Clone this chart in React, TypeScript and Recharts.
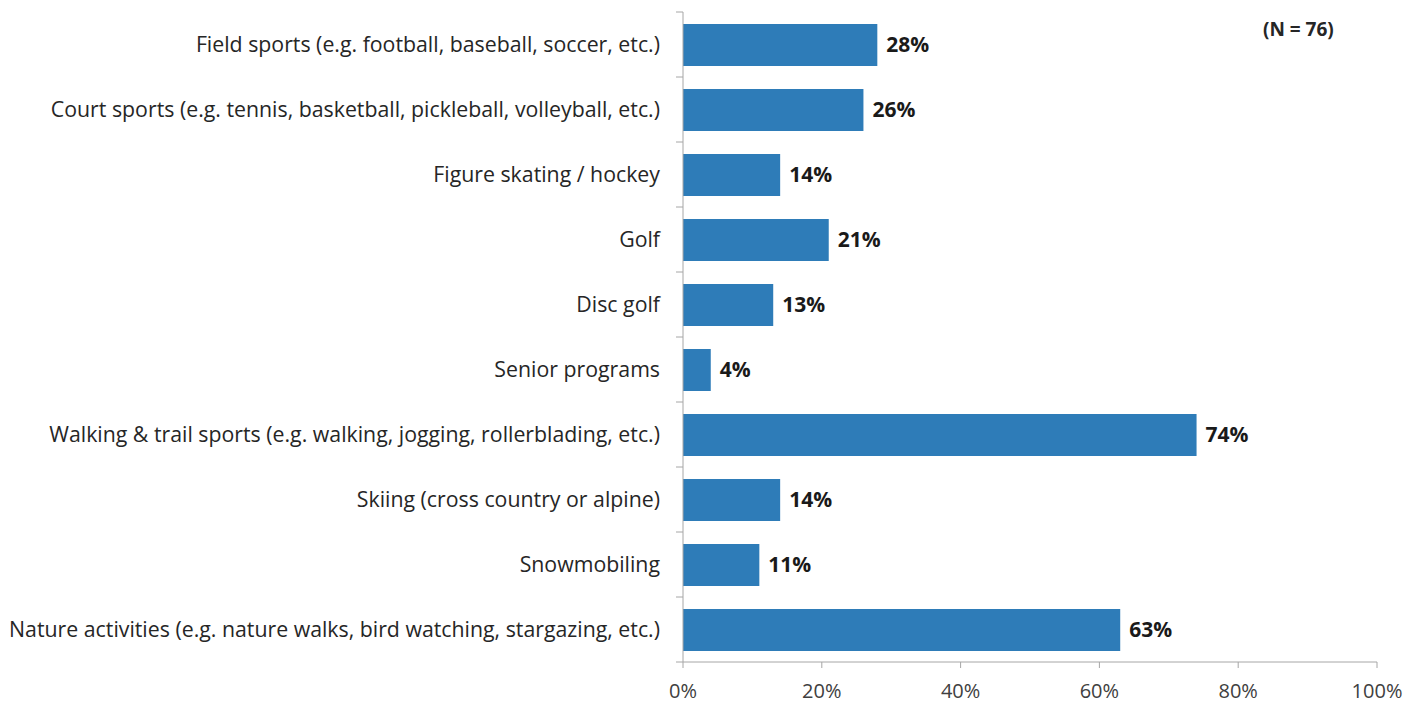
import { BarChart, Bar, XAxis, YAxis, LabelList } from 'recharts';

const categories = [
  'Field sports (e.g. football, baseball, soccer, etc.)',
  'Court sports (e.g. tennis, basketball, pickleball, volleyball, etc.)',
  'Figure skating / hockey',
  'Golf',
  'Disc golf',
  'Senior programs',
  'Walking & trail sports (e.g. walking, jogging, rollerblading, etc.)',
  'Skiing (cross country or alpine)',
  'Snowmobiling',
  'Nature activities (e.g. nature walks, bird watching, stargazing, etc.)',
];
const shares = [28, 26, 14, 21, 13, 4, 74, 14, 11, 63];
const xTicks = [0, 20, 40, 60, 80, 100];
const sampleNote = '(N = 76)';

const data = categories.map((name, i) => ({ name, value: shares[i] }));

const W = 1421;
const H = 710;
const M = { top: 12, right: 44, bottom: 0, left: 0 };
const X_AXIS_H = 48;
const BAND = (H - M.top - M.bottom - X_AXIS_H) / categories.length;
const FONT = '"Open Sans", sans-serif';
const AXIS = '#a6a6a6';

const CategoryTick = (props: any) => {
  const { x, y, payload, index } = props;
  return (
    <g>
      <line x1={x - 7} x2={x} y1={y - BAND / 2} y2={y - BAND / 2} stroke={AXIS} strokeWidth={1} />
      {index === categories.length - 1 && (
        <line x1={x - 7} x2={x} y1={y + BAND / 2} y2={y + BAND / 2} stroke={AXIS} strokeWidth={1} />
      )}
      <text x={x - 23} y={y} dy={7} textAnchor="end" fill="#262626" fontSize={21.3} fontFamily={FONT}>
        {payload.value}
      </text>
    </g>
  );
};

export default function App() {
  return (
    <div style={{ position: 'absolute', left: 0, top: 0, width: W, height: H, background: '#fff' }}>
      <BarChart width={W} height={H} data={data} layout="vertical" margin={M} barCategoryGap={0}>
        <XAxis
          type="number"
          domain={[0, 100]}
          ticks={xTicks}
          tickFormatter={(v: number) => `${v}%`}
          height={X_AXIS_H}
          stroke={AXIS}
          tickSize={6}
          tickMargin={16}
          tick={{ fill: '#404040', fontSize: 20, fontFamily: FONT }}
        />
        <YAxis
          type="category"
          dataKey="name"
          width={683}
          stroke={AXIS}
          tickLine={false}
          tickSize={0}
          tickMargin={0}
          interval={0}
          tick={<CategoryTick />}
        />
        <Bar dataKey="value" fill="#2e7cb8" barSize={42} isAnimationActive={false}>
          <LabelList
            dataKey="value"
            position="right"
            offset={9}
            formatter={(v: any) => `${v}%`}
            style={{ fill: '#1a1a1a', fontSize: 21, fontWeight: 700, fontFamily: FONT }}
          />
        </Bar>
      </BarChart>
      <div
        style={{
          position: 'absolute',
          left: 1263,
          top: 16,
          fontFamily: FONT,
          fontSize: 19,
          fontWeight: 700,
          color: '#262626',
        }}
      >
        {sampleNote}
      </div>
    </div>
  );
}
